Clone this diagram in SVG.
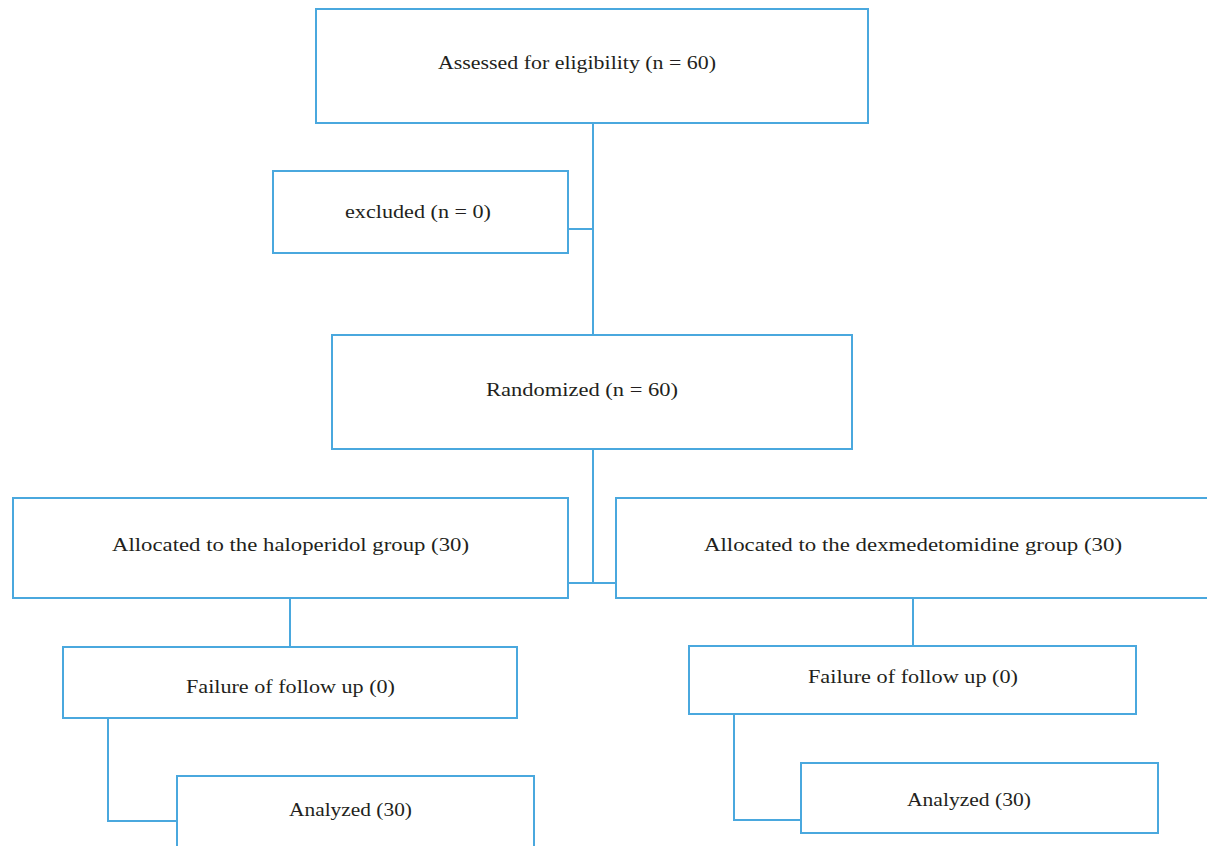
<svg xmlns="http://www.w3.org/2000/svg" width="1207" height="846" viewBox="0 0 1207 846">
<style>
.box{fill:#fff;stroke:#4aa8de;stroke-width:2}
.ln{fill:none;stroke:#4aa8de;stroke-width:2}
.t{font-family:"Liberation Serif","DejaVu Serif",serif;font-size:18px;fill:#231f20;text-anchor:middle;dominant-baseline:central}
</style>
<rect width="1207" height="846" fill="#fff"/>
<g id="connectors">
<path class="ln" d="M593 123V335M568 229H593M593 449V583M568 583H616M290 598V647M913 598V646M108 718V821H177M734 714V820H801"/>
</g>
<g id="n1"><rect class="box" x="316" y="9" width="552" height="114"/><text class="t" x="577" y="63" textLength="278" lengthAdjust="spacingAndGlyphs">Assessed for eligibility (n = 60)</text></g>
<g id="n2"><rect class="box" x="273" y="171" width="295" height="82"/><text class="t" x="418" y="212" textLength="146" lengthAdjust="spacingAndGlyphs">excluded (n = 0)</text></g>
<g id="n3"><rect class="box" x="332" y="335" width="520" height="114"/><text class="t" x="582" y="390" textLength="192" lengthAdjust="spacingAndGlyphs">Randomized (n = 60)</text></g>
<g id="n4"><rect class="box" x="13" y="498" width="555" height="100"/><text class="t" x="290.5" y="545" textLength="357" lengthAdjust="spacingAndGlyphs">Allocated to the haloperidol group (30)</text></g>
<g id="n5"><rect class="box" x="616" y="498" width="600" height="100"/><text class="t" x="913" y="545" textLength="418" lengthAdjust="spacingAndGlyphs">Allocated to the dexmedetomidine group (30)</text></g>
<g id="n6"><rect class="box" x="63" y="647" width="454" height="71"/><text class="t" x="290.5" y="687" textLength="209" lengthAdjust="spacingAndGlyphs">Failure of follow up (0)</text></g>
<g id="n7"><rect class="box" x="689" y="646" width="447" height="68"/><text class="t" x="913" y="677" textLength="210" lengthAdjust="spacingAndGlyphs">Failure of follow up (0)</text></g>
<g id="n8"><rect class="box" x="177" y="776" width="357" height="80"/><text class="t" x="350.5" y="810" textLength="123" lengthAdjust="spacingAndGlyphs">Analyzed (30)</text></g>
<g id="n9"><rect class="box" x="801" y="763" width="357" height="70"/><text class="t" x="969" y="800" textLength="124" lengthAdjust="spacingAndGlyphs">Analyzed (30)</text></g>
</svg>
